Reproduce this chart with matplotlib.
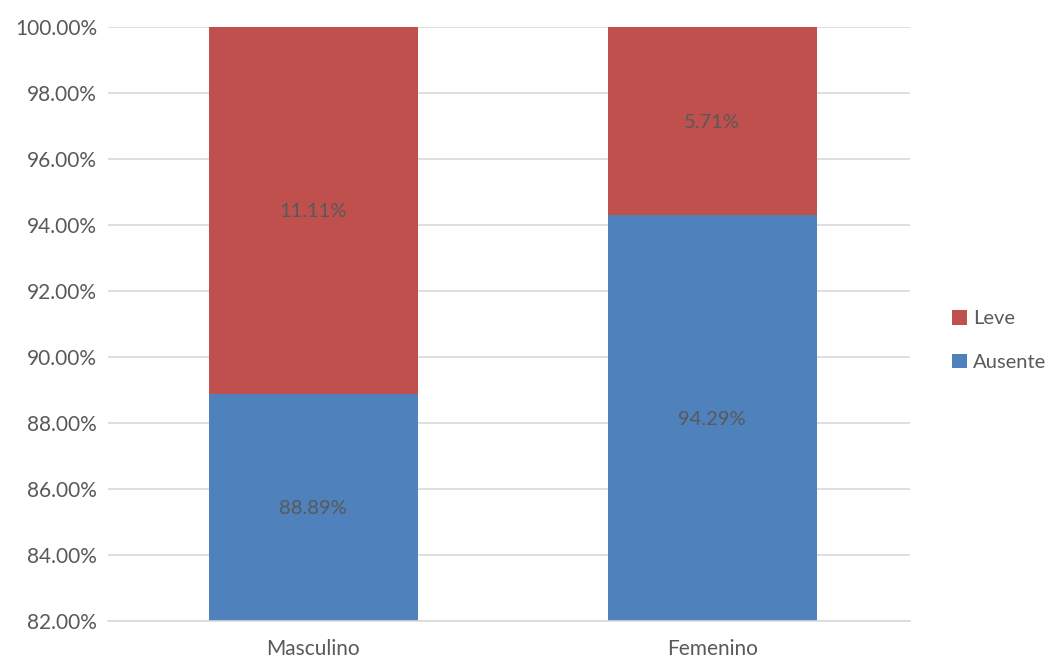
import matplotlib.pyplot as plt
from matplotlib.ticker import FuncFormatter

categories = ["Masculino", "Femenino"]
ausente = [88.89, 94.29]
leve = [11.11, 5.71]

blue = "#4F81BD"
red = "#C0504D"
text_color = "#595959"

plt.rcParams["font.family"] = ["Lato", "DejaVu Sans"]

fig = plt.figure(figsize=(10.53, 6.61), dpi=100)
ax = fig.add_axes([0.1026, 0.0605, 0.7616, 0.8987])

x = range(len(categories))
width = 0.524
bars_a = ax.bar(x, ausente, width, color=blue, label="Ausente", zorder=2)
bars_l = ax.bar(x, leve, width, bottom=ausente, color=red, label="Leve", zorder=2)

ax.set_ylim(82, 100)
ax.set_xlim(-0.514, 1.496)
ax.set_yticks([82 + 2 * i for i in range(10)])
ax.yaxis.set_major_formatter(FuncFormatter(lambda v, _: f"{v:.2f}%"))
ax.set_xticks(list(x))
ax.set_xticklabels(categories)

ax.grid(axis="y", color="#D9D9D9", linewidth=1.2, zorder=0)
for side in ["top", "right", "left"]:
    ax.spines[side].set_visible(False)
ax.spines["bottom"].set_color("#D9D9D9")
ax.spines["bottom"].set_linewidth(1.2)
ax.tick_params(length=0, labelsize=15, colors=text_color, pad=8)
ax.tick_params(axis="x", pad=13)

# segment value labels, placed at the middle of the visible part
for i in x:
    lo = max(ax.get_ylim()[0], 0)
    ax.text(i, (lo + ausente[i]) / 2, f"{ausente[i]:.2f}%",
            ha="center", va="center_baseline", fontsize=14.5,
            color=text_color, zorder=3)
    ax.text(i, ausente[i] + leve[i] / 2, f"{leve[i]:.2f}%",
            ha="center", va="center_baseline", fontsize=14.5,
            color=text_color, zorder=3)

handles = [bars_l, bars_a]
fig.legend(handles, ["Leve", "Ausente"], loc="center left",
           bbox_to_anchor=(0.887, 0.485), frameon=False, fontsize=14.5,
           handlelength=0.75, handleheight=0.75, handletextpad=0.3,
           labelspacing=1.3, labelcolor=text_color)

fig.savefig("out.png", dpi=100)
